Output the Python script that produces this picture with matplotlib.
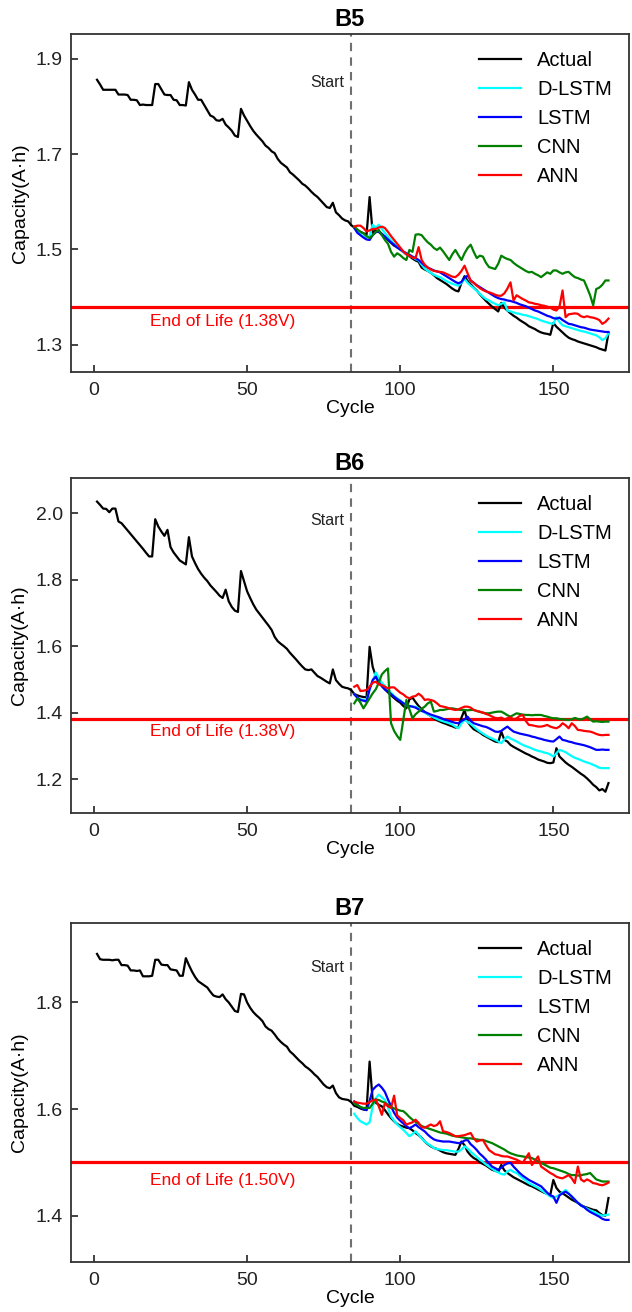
import matplotlib
matplotlib.use("Agg")
import matplotlib.pyplot as plt
import numpy as np

plt.rcParams['font.family'] = ['Liberation Sans', 'DejaVu Sans']

# ---------------- data ----------------
cycles = list(range(1, 169))
pred_cycles = list(range(85, 169))
start_cycle = 84

b5_actual = [1.856, 1.846, 1.835, 1.835, 1.835, 1.835, 1.835, 1.825, 1.825, 1.825,
             1.824, 1.814, 1.814, 1.813, 1.803, 1.804, 1.803, 1.803, 1.803, 1.847,
             1.847, 1.836, 1.825, 1.824, 1.824, 1.814, 1.813, 1.803, 1.803, 1.802,
             1.851, 1.835, 1.825, 1.814, 1.814, 1.803, 1.792, 1.781, 1.778, 1.771,
             1.770, 1.774, 1.762, 1.756, 1.749, 1.739, 1.736, 1.795, 1.781, 1.770,
             1.759, 1.749, 1.741, 1.734, 1.727, 1.718, 1.713, 1.706, 1.702, 1.690,
             1.682, 1.677, 1.672, 1.662, 1.657, 1.651, 1.645, 1.638, 1.634, 1.628,
             1.621, 1.615, 1.610, 1.603, 1.596, 1.589, 1.587, 1.598, 1.578, 1.572,
             1.565, 1.561, 1.559, 1.551, 1.546, 1.541, 1.537, 1.534, 1.531, 1.610,
             1.535, 1.540, 1.537, 1.531, 1.527, 1.520, 1.514, 1.508, 1.505, 1.500,
             1.495, 1.490, 1.486, 1.481, 1.477, 1.474, 1.462, 1.458, 1.455, 1.451,
             1.446, 1.440, 1.436, 1.432, 1.428, 1.423, 1.418, 1.414, 1.412, 1.430,
             1.444, 1.434, 1.427, 1.420, 1.414, 1.406, 1.399, 1.392, 1.386, 1.380,
             1.375, 1.370, 1.388, 1.378, 1.372, 1.366, 1.361, 1.357, 1.352, 1.348,
             1.344, 1.339, 1.336, 1.333, 1.329, 1.326, 1.324, 1.323, 1.321, 1.346,
             1.338, 1.332, 1.326, 1.320, 1.315, 1.312, 1.310, 1.307, 1.305, 1.303,
             1.301, 1.299, 1.297, 1.295, 1.292, 1.290, 1.288, 1.325]
b5_dlstm = [1.546, 1.538, 1.532, 1.527, 1.525, 1.528, 1.552, 1.545, 1.552, 1.543,
            1.535, 1.527, 1.519, 1.512, 1.505, 1.500, 1.495, 1.490, 1.487, 1.484,
            1.480, 1.477, 1.468, 1.460, 1.455, 1.451, 1.447, 1.444, 1.442, 1.438,
            1.434, 1.431, 1.428, 1.426, 1.424, 1.430, 1.438, 1.430, 1.424, 1.419,
            1.413, 1.407, 1.401, 1.396, 1.393, 1.389, 1.386, 1.383, 1.386, 1.389,
            1.372, 1.370, 1.368, 1.366, 1.365, 1.363, 1.362, 1.360, 1.358, 1.356,
            1.354, 1.351, 1.349, 1.347, 1.345, 1.344, 1.358, 1.348, 1.341, 1.339,
            1.337, 1.335, 1.333, 1.331, 1.329, 1.328, 1.326, 1.324, 1.322, 1.320,
            1.316, 1.310, 1.314, 1.324]
b5_lstm = [1.545, 1.535, 1.530, 1.525, 1.521, 1.520, 1.530, 1.536, 1.538, 1.533,
           1.527, 1.521, 1.515, 1.510, 1.504, 1.500, 1.496, 1.492, 1.489, 1.485,
           1.482, 1.478, 1.472, 1.466, 1.462, 1.459, 1.456, 1.454, 1.452, 1.448,
           1.444, 1.440, 1.436, 1.432, 1.429, 1.432, 1.441, 1.445, 1.435, 1.430,
           1.425, 1.421, 1.417, 1.413, 1.409, 1.405, 1.401, 1.398, 1.396, 1.395,
           1.393, 1.392, 1.390, 1.388, 1.385, 1.383, 1.381, 1.378, 1.375, 1.372,
           1.370, 1.367, 1.364, 1.361, 1.359, 1.356, 1.355, 1.357, 1.352, 1.348,
           1.344, 1.343, 1.341, 1.339, 1.337, 1.336, 1.334, 1.332, 1.331, 1.330,
           1.329, 1.328, 1.327, 1.327]
b5_cnn = [1.548, 1.542, 1.537, 1.534, 1.528, 1.524, 1.530, 1.537, 1.541, 1.530,
          1.520, 1.512, 1.495, 1.485, 1.492, 1.488, 1.482, 1.478, 1.499, 1.495,
          1.531, 1.532, 1.530, 1.522, 1.515, 1.510, 1.503, 1.499, 1.504, 1.496,
          1.487, 1.478, 1.490, 1.499, 1.488, 1.478, 1.492, 1.503, 1.510, 1.495,
          1.482, 1.487, 1.485, 1.472, 1.463, 1.461, 1.459, 1.470, 1.487, 1.483,
          1.480, 1.478, 1.472, 1.467, 1.463, 1.459, 1.455, 1.452, 1.453, 1.449,
          1.446, 1.442, 1.447, 1.452, 1.449, 1.456, 1.456, 1.452, 1.449, 1.452,
          1.453, 1.447, 1.442, 1.440, 1.437, 1.435, 1.420, 1.404, 1.383, 1.417,
          1.420, 1.426, 1.435, 1.435]
b5_ann = [1.548, 1.550, 1.550, 1.545, 1.538, 1.540, 1.543, 1.543, 1.546, 1.548,
          1.545, 1.537, 1.528, 1.520, 1.512, 1.504, 1.496, 1.490, 1.487, 1.483,
          1.482, 1.505, 1.478, 1.468, 1.462, 1.458, 1.455, 1.454, 1.453, 1.452,
          1.449, 1.446, 1.443, 1.442, 1.447, 1.455, 1.466, 1.450, 1.435, 1.430,
          1.424, 1.419, 1.415, 1.412, 1.410, 1.408, 1.405, 1.403, 1.403, 1.408,
          1.418, 1.431, 1.393, 1.404, 1.400, 1.396, 1.393, 1.389, 1.388, 1.386,
          1.385, 1.383, 1.382, 1.380, 1.378, 1.374, 1.372, 1.380, 1.414, 1.358,
          1.364, 1.365, 1.366, 1.365, 1.360, 1.358, 1.360, 1.358, 1.357, 1.355,
          1.352, 1.344, 1.348, 1.355]

b6_actual = [2.035, 2.025, 2.014, 2.013, 2.003, 2.014, 2.014, 1.975, 1.970, 1.959,
             1.948, 1.937, 1.926, 1.915, 1.904, 1.893, 1.881, 1.870, 1.870, 1.982,
             1.960, 1.945, 1.932, 1.950, 1.898, 1.882, 1.870, 1.858, 1.852, 1.846,
             1.928, 1.870, 1.850, 1.832, 1.818, 1.806, 1.796, 1.783, 1.773, 1.763,
             1.752, 1.745, 1.770, 1.735, 1.718, 1.707, 1.703, 1.826, 1.795, 1.765,
             1.745, 1.726, 1.710, 1.698, 1.686, 1.674, 1.662, 1.649, 1.628, 1.615,
             1.607, 1.600, 1.592, 1.580, 1.570, 1.560, 1.549, 1.539, 1.530, 1.528,
             1.530, 1.520, 1.510, 1.505, 1.499, 1.493, 1.488, 1.530, 1.498, 1.487,
             1.478, 1.475, 1.473, 1.468, 1.456, 1.452, 1.449, 1.447, 1.446, 1.598,
             1.538, 1.510, 1.492, 1.480, 1.470, 1.461, 1.452, 1.444, 1.436, 1.430,
             1.420, 1.413, 1.440, 1.445, 1.432, 1.420, 1.410, 1.402, 1.395, 1.390,
             1.382, 1.377, 1.373, 1.369, 1.366, 1.362, 1.359, 1.355, 1.356, 1.385,
             1.408, 1.373, 1.360, 1.350, 1.345, 1.340, 1.333, 1.328, 1.323, 1.318,
             1.313, 1.311, 1.343, 1.318, 1.313, 1.303, 1.297, 1.292, 1.287, 1.282,
             1.277, 1.273, 1.268, 1.264, 1.259, 1.256, 1.253, 1.249, 1.248, 1.250,
             1.293, 1.268, 1.259, 1.250, 1.243, 1.237, 1.230, 1.223, 1.216, 1.210,
             1.202, 1.193, 1.183, 1.176, 1.166, 1.170, 1.162, 1.188]
b6_dlstm = [1.455, 1.445, 1.440, 1.438, 1.438, 1.470, 1.493, 1.521, 1.505, 1.490,
            1.480, 1.470, 1.460, 1.450, 1.443, 1.437, 1.430, 1.423, 1.418, 1.418,
            1.418, 1.413, 1.406, 1.400, 1.395, 1.390, 1.385, 1.381, 1.377, 1.374,
            1.371, 1.368, 1.364, 1.358, 1.353, 1.368, 1.378, 1.372, 1.366, 1.358,
            1.350, 1.343, 1.337, 1.331, 1.326, 1.322, 1.318, 1.313, 1.308, 1.320,
            1.328, 1.322, 1.318, 1.313, 1.308, 1.303, 1.299, 1.296, 1.292, 1.288,
            1.285, 1.283, 1.280, 1.278, 1.274, 1.268, 1.278, 1.288, 1.285, 1.281,
            1.275, 1.269, 1.264, 1.261, 1.257, 1.253, 1.250, 1.247, 1.243, 1.239,
            1.234, 1.233, 1.233, 1.233]
b6_lstm = [1.455, 1.445, 1.438, 1.436, 1.433, 1.470, 1.498, 1.508, 1.490, 1.480,
           1.470, 1.463, 1.456, 1.448, 1.441, 1.435, 1.428, 1.423, 1.420, 1.418,
           1.415, 1.410, 1.405, 1.402, 1.398, 1.394, 1.391, 1.388, 1.385, 1.381,
           1.378, 1.375, 1.372, 1.369, 1.368, 1.375, 1.380, 1.388, 1.375, 1.368,
           1.365, 1.362, 1.359, 1.357, 1.353, 1.348, 1.343, 1.342, 1.345, 1.352,
           1.358, 1.350, 1.343, 1.340, 1.337, 1.335, 1.333, 1.331, 1.328, 1.326,
           1.323, 1.321, 1.318, 1.316, 1.314, 1.313, 1.320, 1.328, 1.318, 1.316,
           1.313, 1.311, 1.308, 1.306, 1.304, 1.302, 1.299, 1.296, 1.292, 1.288,
           1.288, 1.289, 1.288, 1.288]
b6_cnn = [1.428, 1.443, 1.430, 1.413, 1.428, 1.443, 1.458, 1.470, 1.490, 1.515,
          1.525, 1.533, 1.368, 1.345, 1.330, 1.318, 1.378, 1.438, 1.410, 1.383,
          1.395, 1.403, 1.412, 1.418, 1.428, 1.433, 1.403, 1.405, 1.408, 1.408,
          1.410, 1.412, 1.413, 1.411, 1.409, 1.408, 1.408, 1.407, 1.408, 1.408,
          1.405, 1.402, 1.400, 1.398, 1.398, 1.400, 1.402, 1.403, 1.403, 1.398,
          1.392, 1.388, 1.393, 1.398, 1.396, 1.394, 1.393, 1.393, 1.392, 1.393,
          1.393, 1.393, 1.390, 1.388, 1.385, 1.383, 1.383, 1.381, 1.380, 1.379,
          1.378, 1.380, 1.384, 1.381, 1.379, 1.383, 1.388, 1.380, 1.373, 1.374,
          1.373, 1.372, 1.373, 1.373]
b6_ann = [1.478, 1.483, 1.465, 1.466, 1.468, 1.478, 1.490, 1.493, 1.485, 1.483,
          1.478, 1.473, 1.476, 1.476, 1.468, 1.460, 1.455, 1.447, 1.443, 1.448,
          1.450, 1.457, 1.450, 1.438, 1.440, 1.438, 1.435, 1.428, 1.420, 1.418,
          1.416, 1.413, 1.410, 1.408, 1.410, 1.414, 1.418, 1.418, 1.415, 1.408,
          1.405, 1.403, 1.400, 1.396, 1.393, 1.388, 1.384, 1.383, 1.385, 1.380,
          1.383, 1.386, 1.380, 1.383, 1.390, 1.393, 1.375, 1.363, 1.362, 1.360,
          1.358, 1.358, 1.360, 1.363, 1.358, 1.355, 1.353, 1.358, 1.368, 1.362,
          1.353, 1.368, 1.360, 1.348, 1.347, 1.345, 1.344, 1.343, 1.340, 1.336,
          1.333, 1.332, 1.333, 1.333]

b7_actual = [1.891, 1.881, 1.880, 1.880, 1.880, 1.879, 1.880, 1.880, 1.870, 1.870,
             1.869, 1.860, 1.860, 1.859, 1.860, 1.849, 1.849, 1.849, 1.850, 1.880,
             1.880, 1.871, 1.870, 1.870, 1.862, 1.861, 1.860, 1.850, 1.850, 1.883,
             1.870, 1.858, 1.848, 1.840, 1.836, 1.832, 1.828, 1.820, 1.813, 1.811,
             1.810, 1.815, 1.806, 1.800, 1.792, 1.784, 1.782, 1.816, 1.815, 1.800,
             1.790, 1.782, 1.776, 1.771, 1.765, 1.755, 1.750, 1.747, 1.740, 1.732,
             1.726, 1.721, 1.717, 1.708, 1.703, 1.697, 1.691, 1.686, 1.680, 1.676,
             1.671, 1.665, 1.660, 1.653, 1.646, 1.641, 1.639, 1.644, 1.630, 1.622,
             1.619, 1.618, 1.617, 1.613, 1.606, 1.604, 1.601, 1.599, 1.598, 1.689,
             1.617, 1.612, 1.608, 1.605, 1.598, 1.590, 1.583, 1.577, 1.572, 1.569,
             1.567, 1.565, 1.564, 1.560, 1.555, 1.551, 1.546, 1.539, 1.534, 1.530,
             1.527, 1.525, 1.522, 1.519, 1.517, 1.516, 1.515, 1.514, 1.525, 1.539,
             1.532, 1.520, 1.513, 1.508, 1.505, 1.500, 1.497, 1.494, 1.490, 1.486,
             1.484, 1.482, 1.495, 1.485, 1.480, 1.476, 1.472, 1.469, 1.466, 1.463,
             1.460, 1.457, 1.455, 1.452, 1.449, 1.446, 1.443, 1.441, 1.439, 1.467,
             1.452, 1.445, 1.442, 1.438, 1.434, 1.430, 1.427, 1.424, 1.420, 1.417,
             1.415, 1.413, 1.411, 1.410, 1.405, 1.401, 1.400, 1.433]
b7_dlstm = [1.591, 1.583, 1.577, 1.574, 1.571, 1.575, 1.605, 1.620, 1.627, 1.622,
            1.617, 1.603, 1.586, 1.578, 1.571, 1.566, 1.561, 1.555, 1.549, 1.553,
            1.558, 1.552, 1.545, 1.539, 1.535, 1.531, 1.527, 1.525, 1.524, 1.523,
            1.523, 1.522, 1.521, 1.520, 1.520, 1.524, 1.530, 1.526, 1.520, 1.515,
            1.510, 1.505, 1.501, 1.496, 1.492, 1.488, 1.484, 1.481, 1.478, 1.477,
            1.483, 1.486, 1.482, 1.480, 1.475, 1.470, 1.466, 1.461, 1.458, 1.455,
            1.452, 1.448, 1.444, 1.440, 1.436, 1.433, 1.436, 1.439, 1.444, 1.448,
            1.442, 1.436, 1.430, 1.424, 1.419, 1.416, 1.413, 1.410, 1.408, 1.405,
            1.402, 1.400, 1.401, 1.402]
b7_lstm = [1.614, 1.608, 1.603, 1.600, 1.598, 1.615, 1.636, 1.642, 1.646, 1.640,
           1.632, 1.618, 1.605, 1.593, 1.584, 1.578, 1.573, 1.568, 1.564, 1.567,
           1.571, 1.566, 1.562, 1.558, 1.552, 1.547, 1.543, 1.541, 1.540, 1.539,
           1.539, 1.539, 1.538, 1.537, 1.536, 1.537, 1.541, 1.542, 1.534, 1.529,
           1.523, 1.516, 1.511, 1.505, 1.498, 1.492, 1.489, 1.486, 1.490, 1.495,
           1.498, 1.499, 1.492, 1.486, 1.480, 1.475, 1.471, 1.467, 1.464, 1.461,
           1.458, 1.455, 1.449, 1.443, 1.438, 1.436, 1.424, 1.438, 1.442, 1.445,
           1.441, 1.436, 1.430, 1.424, 1.419, 1.416, 1.411, 1.407, 1.404, 1.401,
           1.398, 1.394, 1.392, 1.392]
b7_cnn = [1.611, 1.607, 1.604, 1.602, 1.602, 1.602, 1.610, 1.618, 1.617, 1.614,
          1.612, 1.608, 1.604, 1.601, 1.599, 1.597, 1.596, 1.591, 1.585, 1.580,
          1.576, 1.572, 1.568, 1.566, 1.564, 1.562, 1.560, 1.558, 1.556, 1.555,
          1.554, 1.552, 1.550, 1.549, 1.548, 1.547, 1.546, 1.545, 1.545, 1.544,
          1.543, 1.542, 1.542, 1.540, 1.538, 1.536, 1.533, 1.530, 1.527, 1.524,
          1.520, 1.517, 1.515, 1.513, 1.512, 1.511, 1.510, 1.509, 1.508, 1.505,
          1.502, 1.499, 1.496, 1.493, 1.490, 1.489, 1.487, 1.485, 1.483, 1.481,
          1.478, 1.476, 1.476, 1.475, 1.476, 1.477, 1.478, 1.480, 1.474, 1.468,
          1.466, 1.464, 1.464, 1.464]
b7_ann = [1.614, 1.612, 1.611, 1.610, 1.610, 1.613, 1.616, 1.618, 1.605, 1.589,
          1.611, 1.605, 1.602, 1.625, 1.588, 1.583, 1.579, 1.571, 1.573, 1.575,
          1.580, 1.574, 1.566, 1.565, 1.568, 1.571, 1.568, 1.570, 1.577, 1.558,
          1.557, 1.555, 1.552, 1.549, 1.549, 1.550, 1.551, 1.553, 1.555, 1.545,
          1.539, 1.541, 1.542, 1.532, 1.523, 1.519, 1.515, 1.514, 1.512, 1.511,
          1.511, 1.509, 1.507, 1.505, 1.502, 1.499, 1.508, 1.517, 1.495, 1.503,
          1.511, 1.492, 1.488, 1.484, 1.480, 1.477, 1.473, 1.471, 1.470, 1.473,
          1.476, 1.470, 1.461, 1.492, 1.468, 1.464, 1.468, 1.465, 1.461, 1.460,
          1.458, 1.457, 1.459, 1.462]

titles = ["B5", "B6", "B7"]
eol_values = [1.38, 1.38, 1.50]
eol_labels = ["End of Life (1.38V)", "End of Life (1.38V)", "End of Life (1.50V)"]
series_names = ["Actual", "D-LSTM", "LSTM", "CNN", "ANN"]
series_colors = ["black", "cyan", "blue", "green", "red"]

panels = [
    (b5_actual, [b5_dlstm, b5_lstm, b5_cnn, b5_ann]),
    (b6_actual, [b6_dlstm, b6_lstm, b6_cnn, b6_ann]),
    (b7_actual, [b7_dlstm, b7_lstm, b7_cnn, b7_ann]),
]

# ---------------- layout ----------------
W, H = 632, 1312
fig = plt.figure(figsize=(W / 100, H / 100), dpi=100)

# pixel boxes: (left, top, right, bottom)
boxes = [(71, 34, 629, 372), (71, 478, 629, 813), (71, 923, 629, 1262)]
ylims = [(1.243, 1.952), (1.098, 2.106), (1.313, 1.949)]
yticks = [[1.3, 1.5, 1.7, 1.9], [1.2, 1.4, 1.6, 1.8, 2.0], [1.4, 1.6, 1.8]]
start_text_y = [1.850, 1.977, 1.866]
eol_text_y = [1.349, 1.342, 1.466]

for i, (actual, preds) in enumerate(panels):
    l, t, r, b = boxes[i]
    ax = fig.add_axes([l / W, 1 - b / H, (r - l) / W, (b - t) / H])

    ax.plot(cycles, actual, color=series_colors[0], lw=1.6, label=series_names[0], zorder=3)
    for p, name, col in zip(preds, series_names[1:], series_colors[1:]):
        ax.plot(pred_cycles, p, color=col, lw=1.6, label=name, zorder=3)

    ax.axvline(start_cycle, color='#707070', ls='--', lw=1.5, dashes=(4, 3), zorder=1)
    ax.axhline(eol_values[i], color='red', lw=2.3, zorder=2)

    ax.text(start_cycle - 2.3, start_text_y[i], "Start", ha='right', va='center',
            fontsize=11.5, color='#222222')
    ax.text(42, eol_text_y[i], eol_labels[i], ha='center', va='center',
            fontsize=12.5, color='red')

    ax.set_xlim(-7.5, 174.7)
    ax.set_ylim(*ylims[i])
    ax.set_xticks([0, 50, 100, 150])
    ax.set_yticks(yticks[i])
    ax.yaxis.set_major_formatter(matplotlib.ticker.FormatStrFormatter('%.1f'))
    ax.tick_params(direction='in', length=5, width=1.2, labelsize=14, colors='#222222')
    ax.tick_params(axis='y', pad=6)
    ax.tick_params(axis='x', pad=7)
    for s in ax.spines.values():
        s.set_linewidth(1.3)
        s.set_color('#333333')

    ax.set_xlabel("Cycle", fontsize=14, labelpad=1)
    ax.set_ylabel("Capacity(A·h)", fontsize=14, labelpad=5)
    ax.set_title(titles[i], fontsize=17, fontweight='bold', pad=6)

    ax.legend(loc='upper right', frameon=False, fontsize=14.5, handlelength=2.1,
              borderaxespad=0.45)

fig.savefig("out.png", dpi=100)
